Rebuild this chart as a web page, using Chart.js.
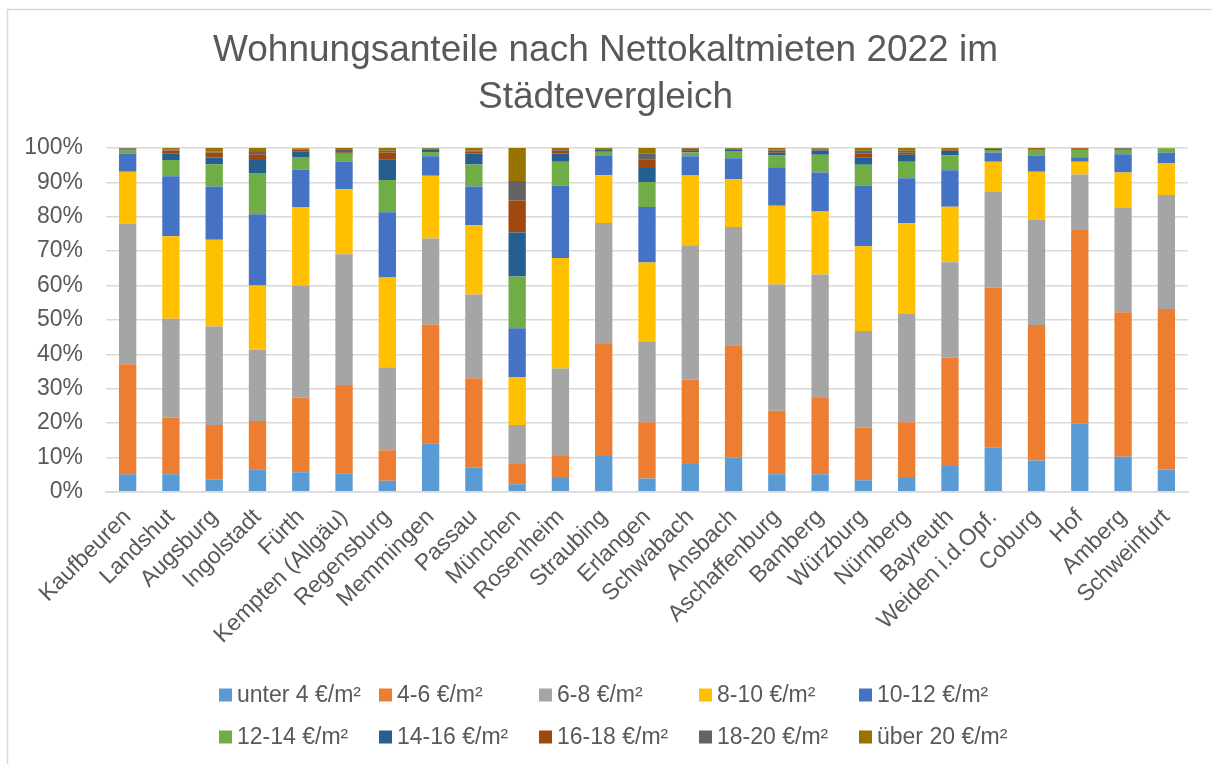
<!DOCTYPE html>
<html lang="de">
<head>
<meta charset="utf-8">
<title>Wohnungsanteile nach Nettokaltmieten 2022</title>
<script src="https://cdn.jsdelivr.net/npm/chart.js@4/dist/chart.umd.min.js"></script>
<style>
  html, body { margin: 0; padding: 0; background: #fff; }
  #wrap { width: 1212px; height: 764px; }
</style>
</head>
<body>
<div id="wrap"><canvas id="chart" width="1212" height="764"></canvas></div>
<script>
// Städte (Reihenfolge wie im Original)
const cities = [
  'Kaufbeuren', 'Landshut', 'Augsburg', 'Ingolstadt', 'Fürth', 'Kempten (Allgäu)',
  'Regensburg', 'Memmingen', 'Passau', 'München', 'Rosenheim', 'Straubing',
  'Erlangen', 'Schwabach', 'Ansbach', 'Aschaffenburg', 'Bamberg', 'Würzburg',
  'Nürnberg', 'Bayreuth', 'Weiden i.d.Opf.', 'Coburg', 'Hof', 'Amberg', 'Schweinfurt'
];

// Anteile in Prozent je Mietklasse
const unter4  = [5.1, 5.1, 3.5, 6.6, 5.7, 5.4, 3.2, 14.0, 7.1, 2.2, 4.0, 10.4, 3.9, 8.1, 9.9, 5.1, 5.1, 3.4, 4.0, 7.5, 12.8, 9.1, 19.8, 10.2, 6.5];
const von4bis6   = [32.0, 16.5, 15.9, 14.0, 21.7, 25.7, 8.9, 34.7, 25.9, 5.9, 6.4, 32.6, 16.3, 24.6, 32.7, 18.5, 22.2, 15.2, 16.2, 31.6, 46.6, 39.4, 56.6, 42.0, 46.7];
const von6bis8   = [40.9, 28.7, 28.7, 20.7, 32.6, 38.0, 24.1, 25.0, 24.4, 11.3, 25.5, 35.2, 23.4, 39.0, 34.4, 36.7, 35.9, 28.2, 31.5, 27.7, 27.8, 30.6, 15.9, 30.5, 33.1];
const von8bis10  = [15.1, 24.0, 25.2, 18.7, 22.8, 18.9, 26.1, 18.2, 20.1, 14.0, 32.1, 13.9, 23.1, 20.3, 13.9, 22.9, 18.3, 24.6, 26.4, 16.1, 8.8, 14.0, 3.7, 10.2, 9.3];
const von10bis12 = [5.3, 17.5, 15.5, 20.7, 10.9, 8.1, 19.0, 5.7, 11.3, 14.2, 21.0, 5.6, 16.1, 5.6, 6.1, 11.2, 11.4, 17.7, 13.1, 10.6, 2.7, 4.7, 1.3, 5.3, 3.0];
const von12bis14 = [0.9, 4.7, 6.4, 12.0, 3.7, 2.2, 9.4, 1.2, 6.4, 15.0, 7.0, 1.2, 7.3, 1.1, 2.1, 3.4, 5.1, 6.0, 4.8, 4.3, 0.7, 1.4, 2.1, 1.2, 1.3];
const von14bis16 = [0.2, 1.8, 2.0, 3.8, 1.5, 0.3, 6.0, 0.8, 3.2, 12.8, 2.4, 0.5, 4.1, 0.5, 0.4, 0.8, 1.3, 2.2, 2.0, 1.4, 0.3, 0.1, 0.1, 0.1, 0.0];
const von16bis18 = [0.3, 1.0, 1.5, 1.7, 0.5, 0.5, 2.0, 0.1, 0.5, 9.3, 0.8, 0.2, 2.5, 0.5, 0.2, 0.6, 0.2, 1.0, 0.6, 0.3, 0.1, 0.2, 0.4, 0.2, 0.0];
const von18bis20 = [0.1, 0.2, 0.3, 0.6, 0.2, 0.3, 0.5, 0.1, 0.3, 5.7, 0.2, 0.1, 1.6, 0.1, 0.1, 0.3, 0.3, 0.9, 0.6, 0.2, 0.1, 0.2, 0.0, 0.2, 0.0];
const ueber20    = [0.1, 0.5, 1.0, 1.2, 0.3, 0.6, 0.8, 0.2, 0.8, 9.6, 0.6, 0.3, 1.7, 0.2, 0.2, 0.5, 0.2, 0.8, 0.8, 0.3, 0.1, 0.3, 0.1, 0.1, 0.1];

const seriesLabels = ['unter 4 €/m²', '4-6 €/m²', '6-8 €/m²', '8-10 €/m²', '10-12 €/m²',
  '12-14 €/m²', '14-16 €/m²', '16-18 €/m²', '18-20 €/m²', 'über 20 €/m²'];
const seriesValues = [unter4, von4bis6, von6bis8, von8bis10, von10bis12,
  von12bis14, von14bis16, von16bis18, von18bis20, ueber20];
const seriesColors = ['#5B9BD5', '#ED7D31', '#A5A5A5', '#FFC000', '#4472C4',
  '#70AD47', '#255E91', '#9E480E', '#636363', '#997300'];

const yTicks = [0, 10, 20, 30, 40, 50, 60, 70, 80, 90, 100];

const FONT = "'Liberation Sans', Arial, sans-serif";
const TEXT = '#595959';
const GRID = '#D9D9D9';

// Rahmen oben/links wie im Excel-Export
const frame = {
  id: 'frame',
  beforeDraw(chart) {
    const ctx = chart.ctx;
    ctx.save();
    ctx.strokeStyle = GRID;
    ctx.lineWidth = 1.5;
    ctx.beginPath();
    ctx.moveTo(7.5, chart.height);
    ctx.lineTo(7.5, 9.5);
    ctx.lineTo(chart.width, 9.5);
    ctx.stroke();
    ctx.restore();
  }
};

// Legende als 2x5-Raster
const gridLegend = {
  id: 'gridLegend',
  afterDraw(chart) {
    const ctx = chart.ctx;
    const cols = 5;
    const colWidth = 160;
    const left = 219;
    const rowY = [695, 737];
    const box = 13;
    ctx.save();
    ctx.font = '23px ' + FONT;
    ctx.textBaseline = 'middle';
    chart.data.datasets.forEach((ds, i) => {
      const x = left + (i % cols) * colWidth;
      const y = rowY[Math.floor(i / cols)];
      ctx.fillStyle = ds.backgroundColor;
      ctx.fillRect(x, y - box / 2, box, box);
      ctx.fillStyle = TEXT;
      ctx.fillText(ds.label, x + box + 5, y + 1);
    });
    ctx.restore();
  }
};

const datasets = seriesLabels.map((label, i) => ({
  label: label,
  data: seriesValues[i],
  backgroundColor: seriesColors[i],
  borderWidth: 0,
  barPercentage: 0.4,
  categoryPercentage: 1.0
}));

new Chart(document.getElementById('chart'), {
  type: 'bar',
  data: { labels: cities, datasets: datasets },
  options: {
    responsive: false,
    animation: false,
    devicePixelRatio: 1,
    layout: { padding: { left: 23, right: 24, top: 0, bottom: 111 } },
    plugins: {
      legend: { display: false },
      tooltip: { enabled: false },
      title: {
        display: true,
        text: ['Wohnungsanteile nach Nettokaltmieten 2022 im', 'Städtevergleich'],
        color: TEXT,
        font: { family: FONT, size: 37, weight: 'normal', lineHeight: 1.27 },
        padding: { top: 27, bottom: 27 }
      }
    },
    scales: {
      x: {
        stacked: true,
        grid: { display: false },
        border: { color: GRID, width: 1.5 },
        // schräge Beschriftung darf links über die Achse hinausragen
        afterFit(scale) {
          scale.paddingLeft = 0;
          scale.paddingRight = 0;
        },
        ticks: {
          color: TEXT,
          font: { family: FONT, size: 23 },
          autoSkip: false,
          minRotation: 45,
          maxRotation: 45,
          padding: 4
        }
      },
      y: {
        stacked: true,
        min: 0,
        max: 100,
        afterBuildTicks(scale) {
          scale.ticks = yTicks.map(v => ({ value: v }));
        },
        // Beschriftung + einfacher Abstand (Chart.js rechnet sonst doppelt)
        afterFit(scale) {
          scale.width = 83;
        },
        grid: { color: GRID, lineWidth: 1.5, drawTicks: false },
        border: { display: false },
        ticks: {
          color: TEXT,
          font: { family: FONT, size: 23 },
          padding: 23,
          callback: v => v + '%'
        }
      }
    }
  },
  plugins: [frame, gridLegend]
});
</script>
</body>
</html>
